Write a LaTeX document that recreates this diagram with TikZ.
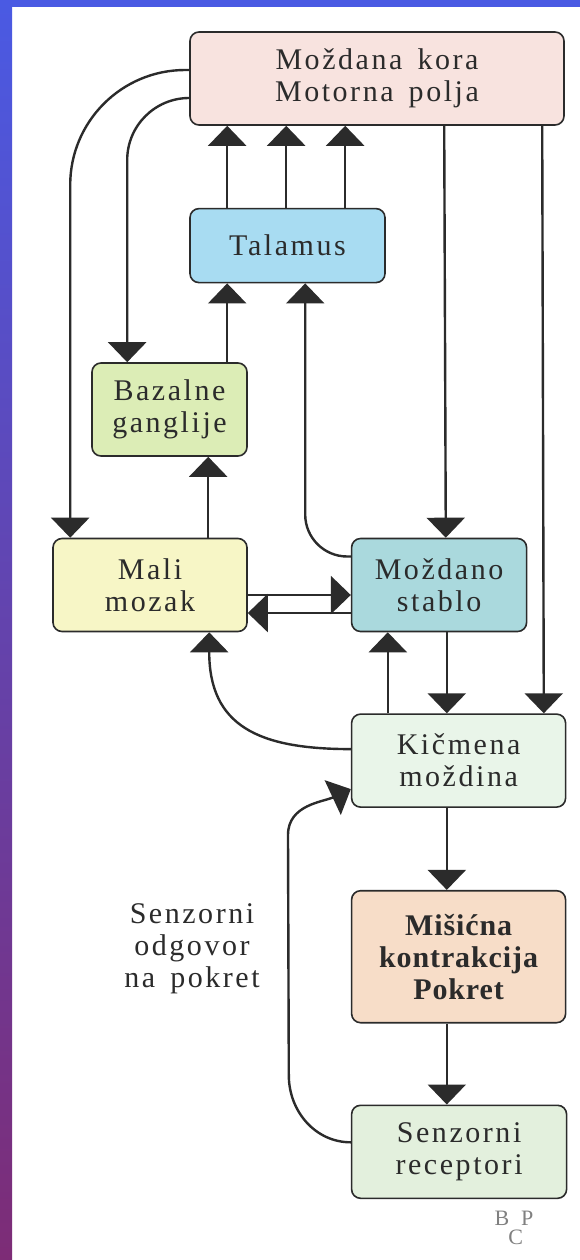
\documentclass[tikz,border=0pt]{standalone}
\usepackage{fontspec}
\setmainfont{Liberation Serif}[LetterSpace=8.5,WordSpace=1.5,BoldFeatures={LetterSpace=3}]
\usetikzlibrary{arrows.meta,positioning}
\definecolor{ink}{HTML}{2B2B2B}
\definecolor{rubgore}{HTML}{4A5AE3}
\definecolor{rubsred}{HTML}{6443C2}
\definecolor{rubdolje}{HTML}{7D2C76}
\definecolor{korafill}{HTML}{F8E3DF}
\definecolor{talfill}{HTML}{A8DCF2}
\definecolor{bazfill}{HTML}{DCEDB6}
\definecolor{malifill}{HTML}{F7F6C6}
\definecolor{stabfill}{HTML}{AAD9DD}
\definecolor{kicfill}{HTML}{E9F5E9}
\definecolor{misfill}{HTML}{F7DDC8}
\definecolor{recfill}{HTML}{E3F0DD}

\begin{document}
\begin{tikzpicture}[x=1pt,y=1pt,
    blok/.style={draw=ink,line width=1.6pt,rounded corners=9pt,text=ink,
                 align=center,inner sep=0pt,minimum height=93pt,
                 font=\fontsize{30}{32}\selectfont},
    veza/.style={ink,line width=2.4pt,-{Triangle[width=38pt,length=20pt]}}]
  \useasboundingbox (0,0) rectangle (580,-1260);
  % pozadina
  \fill[white] (0,0) rectangle (580,-1260);
  \shade[top color=rubgore,middle color=rubsred,bottom color=rubdolje]
    (0,0) rectangle (12,-1260);
  \fill[rubgore] (0,0) rectangle (580,-7);

  % blokovi
  \node[blok,fill=korafill,minimum width=374pt] (kora) at (377,-78.5)
    {Moždana kora\\Motorna polja};
  \node[blok,fill=talfill,minimum width=195pt,minimum height=74pt,
        below=82pt of kora.south west,anchor=north west] (talamus) {Talamus};
  \node[blok,fill=bazfill,minimum width=155pt] (bazalne) at (169.5,-409.5)
    {Bazalne\\ganglije};
  \node[blok,fill=malifill,minimum width=194pt] (mali) at (150,-585)
    {Mali\\mozak};
  \node[blok,fill=stabfill,minimum width=175pt,
        right=103pt of mali.north east,anchor=north west] (stablo)
    {Moždano\\stablo};
  \node[blok,fill=kicfill,minimum width=214pt,
        below=81pt of stablo.south west,anchor=north west] (kicmena)
    {Kičmena\\moždina};
  \node[blok,fill=misfill,minimum width=214pt,minimum height=132pt,
        font=\fontsize{30}{32}\selectfont\bfseries,
        below=82pt of kicmena.south west,anchor=north west] (misicna)
    {Mišićna\\kontrakcija\\Pokret};
  \node[blok,fill=recfill,minimum width=215pt,
        below=81pt of misicna.south west,anchor=north west] (receptori)
    {Senzorni\\receptori};
  \node[text=ink,align=center,font=\fontsize{30}{32}\selectfont] (odgovor)
    at (192,-949) {Senzorni\\odgovor\\na pokret};
  \node[text=gray,font=\fontsize{22}{22}\selectfont] (znak) at (514,-1228)
    {B\kern-1pt\raisebox{-19pt}{C}\kern-2pt P};

  % spojevi
  \draw[veza,rounded corners=115pt] ([yshift=8.5pt]kora.west)
    -| ([xshift=18pt]mali.north west);
  \draw[veza,rounded corners=62pt] ([yshift=-19.5pt]kora.west)
    -| ([xshift=36pt]bazalne.north west);
  \foreach \dx in {38,97,156}
    \draw[veza] ([xshift=\dx pt]talamus.north west) -- ([xshift=\dx pt]kora.south west);
  \draw[veza] ([xshift=136pt]bazalne.north west) -- ([xshift=38pt]talamus.south west);
  \draw[veza,rounded corners=42pt] ([yshift=28.5pt]stablo.west)
    -| ([xshift=116pt]talamus.south west);
  \draw[veza] ([xshift=156pt]mali.north west) -- ([xshift=117pt]bazalne.south west);
  \draw[veza] ([xshift=255pt]kora.south west) -- ([xshift=95pt]stablo.north west);
  \draw[veza] ([xshift=353pt]kora.south west) -- ([xshift=193pt]kicmena.north west);
  \draw[veza] ([yshift=-10pt]mali.east) -- ([yshift=-10pt]stablo.west);
  \draw[veza] ([yshift=-28pt]stablo.west) -- ([yshift=-28pt]mali.east);
  \draw[veza] ([yshift=11.5pt]kicmena.west) to[out=180,in=-90,looseness=1.3]
    ([xshift=157pt]mali.south west);
  \draw[veza] ([xshift=37pt]kicmena.north west) -- ([xshift=37pt]stablo.south west);
  \draw[veza] ([xshift=96pt]stablo.south west) -- ([xshift=96pt]kicmena.north west);
  \draw[veza] ([xshift=96pt]kicmena.south west) -- ([xshift=96pt]misicna.north west);
  \draw[veza] ([xshift=96pt]misicna.south west) -- ([xshift=96pt]receptori.north west);
  \coordinate (zavoj) at (288,-835);
  \draw[veza] ([yshift=9.5pt]receptori.west) to[out=180,in=-90] ++(-62,67)
    -- (zavoj) to[out=90,in=205] ([yshift=-28.5pt]kicmena.west);
\end{tikzpicture}
\end{document}
